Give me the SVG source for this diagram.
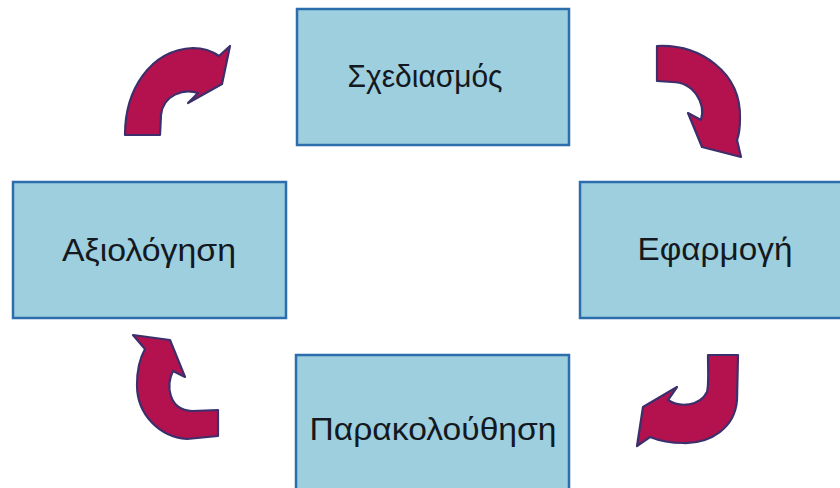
<svg xmlns="http://www.w3.org/2000/svg" width="840" height="488" viewBox="0 0 840 488">
  <style>
    .box { fill: #9dcfde; stroke: #2c6dab; stroke-width: 2.5; }
    .lbl { font-family: "Liberation Sans", Arial, sans-serif; font-size: 32px; fill: #141820; text-anchor: middle; }
    .arr { fill: #b3124f; stroke: #3d2f6b; stroke-width: 2.2; stroke-linejoin: round; }
  </style>
  <rect x="0" y="0" width="840" height="488" fill="#ffffff"/>
  <g id="node-sxediasmos">
    <rect class="box" x="297" y="9" width="272" height="136"/>
    <text class="lbl" x="425" y="87" textLength="155" lengthAdjust="spacingAndGlyphs">Σχεδιασμός</text>
  </g>
  <g id="node-efarmogi">
    <rect class="box" x="580" y="182" width="300" height="136"/>
    <text class="lbl" x="715" y="260" textLength="155" lengthAdjust="spacingAndGlyphs">Εφαρμογή</text>
  </g>
  <g id="node-parakolouthisi">
    <rect class="box" x="296" y="355" width="273" height="150"/>
    <text class="lbl" x="433" y="440" textLength="247" lengthAdjust="spacingAndGlyphs">Παρακολούθηση</text>
  </g>
  <g id="node-axiologisi">
    <rect class="box" x="13" y="182" width="273" height="136"/>
    <text class="lbl" x="149" y="261" textLength="174" lengthAdjust="spacingAndGlyphs">Αξιολόγηση</text>
  </g>
  <g id="connectors">
    <path class="arr" d="M125,135 C125,90 150,50 193,48 C203,48 212,51 219,56 L230,46 L222,84 L188,103 L198,93 C184,88 163,95 161,115 L160,135 Z"/>
    <path class="arr" d="M657,46 C700,44 741,72 740,118 C740,128 739,135 737,140 L741,157 L702,147 L688,113 L701,120 C706,104 694,82 672,82 L657,81 Z"/>
    <path class="arr" d="M738,355 L737,400 C735,428 710,444 683,443 C672,443 660,441 650,437 L637,446 L643,407 L677,387 L668,400 C680,408 700,406 707,392 C709,385 708,370 708,355 Z"/>
    <path class="arr" d="M218,436 L187,439 C160,437 137,415 137,385 C137,370 140,358 145,349 L133,335 L170,340 L185,377 L173,371 C166,385 168,410 192,411 L218,410 Z"/>
  </g>
</svg>
